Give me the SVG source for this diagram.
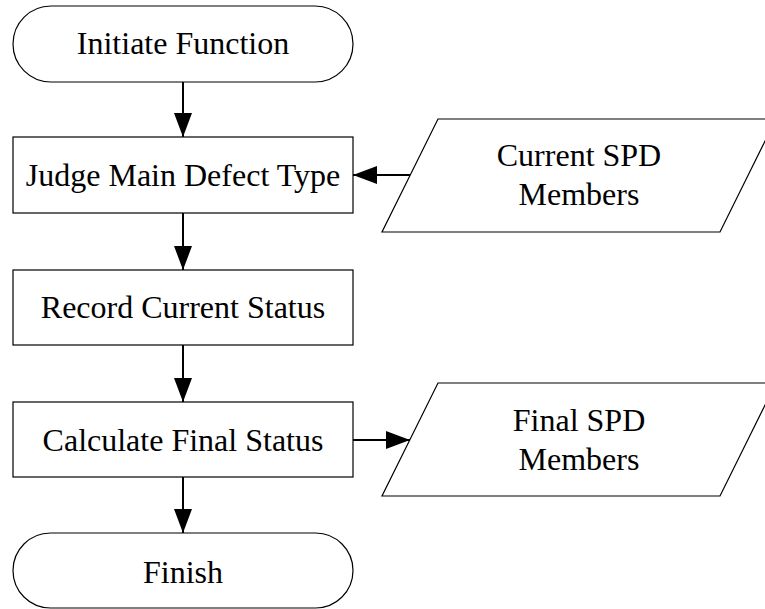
<svg xmlns="http://www.w3.org/2000/svg" width="765" height="609" viewBox="0 0 765 609">
<style>
.shape{fill:#fff;stroke:#000;stroke-width:1.2}
.lbl{font-family:"Liberation Serif","Times New Roman",serif;font-size:32px;fill:#000;text-anchor:middle}
.conn{stroke:#000;stroke-width:2;fill:none}
</style>
<defs>
<marker id="arr" markerUnits="userSpaceOnUse" markerWidth="24" markerHeight="18" refX="24" refY="9" orient="auto">
<path d="M0,0 L24,9 L0,18 Z" fill="#000"/>
</marker>
</defs>
<rect width="765" height="609" fill="#fff"/>
<g id="connectors">
<line class="conn" x1="183" y1="82" x2="183" y2="137" marker-end="url(#arr)"/>
<line class="conn" x1="183" y1="213" x2="183" y2="270" marker-end="url(#arr)"/>
<line class="conn" x1="183" y1="345" x2="183" y2="402" marker-end="url(#arr)"/>
<line class="conn" x1="183" y1="477" x2="183" y2="533" marker-end="url(#arr)"/>
<line class="conn" x1="410" y1="175" x2="353" y2="175" marker-end="url(#arr)"/>
<line class="conn" x1="353" y1="440" x2="410" y2="440" marker-end="url(#arr)"/>
</g>
<g id="start">
<rect class="shape" x="13" y="6" width="340" height="76" rx="38" ry="38"/>
<text class="lbl" x="183" y="54">Initiate Function</text>
</g>
<g id="judge">
<rect class="shape" x="13" y="137" width="340" height="76"/>
<text class="lbl" x="183" y="186">Judge Main Defect Type</text>
</g>
<g id="current-spd">
<polygon class="shape" points="438,119 776,119 720,232 382,232"/>
<text class="lbl" x="579" y="166">Current SPD</text>
<text class="lbl" x="579" y="205">Members</text>
</g>
<g id="record">
<rect class="shape" x="13" y="270" width="340" height="75"/>
<text class="lbl" x="183" y="318">Record Current Status</text>
</g>
<g id="calculate">
<rect class="shape" x="13" y="402" width="340" height="75"/>
<text class="lbl" x="183" y="451">Calculate Final Status</text>
</g>
<g id="final-spd">
<polygon class="shape" points="438,383 776,383 720,496 382,496"/>
<text class="lbl" x="579" y="431">Final SPD</text>
<text class="lbl" x="579" y="470">Members</text>
</g>
<g id="finish">
<rect class="shape" x="13" y="533" width="340" height="75" rx="37.5" ry="37.5"/>
<text class="lbl" x="183" y="583">Finish</text>
</g>
</svg>
